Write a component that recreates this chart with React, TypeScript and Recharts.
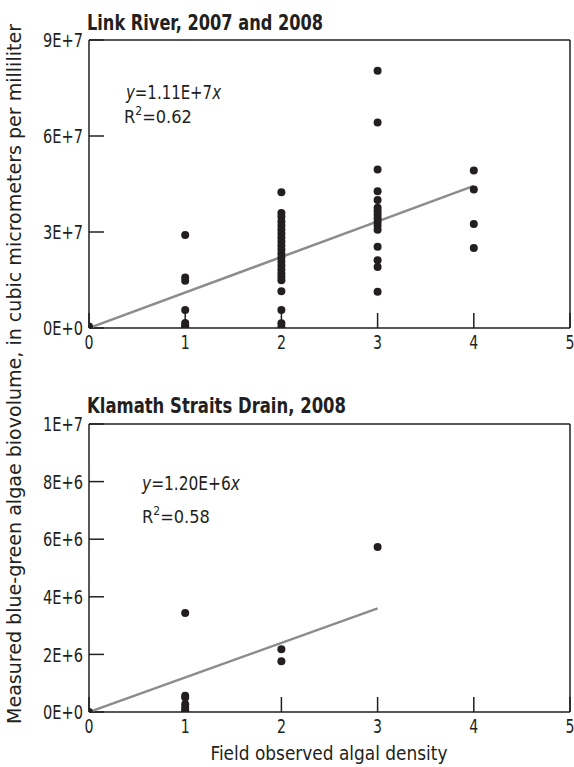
import React from "react";
import { ScatterChart, Scatter, XAxis, YAxis } from "recharts";

// field observed algal density classes (x axis)
const densityTicks = [0, 1, 2, 3, 4, 5];

// Link River, 2007 and 2008 -- biovolume per density class
const linkRiverTicks = [0, 3e7, 6e7, 9e7];
const linkRiverByDensity: number[][] = [
  [0, 0.05e7],
  [2.91e7, 1.58e7, 1.48e7, 0.56e7, 0.16e7, 0.08e7, 0.03e7, 0],
  [
    4.24e7, 3.59e7, 3.48e7, 3.33e7, 3.2e7, 3.08e7, 2.95e7, 2.83e7, 2.7e7,
    2.58e7, 2.45e7, 2.33e7, 2.2e7, 2.08e7, 1.95e7, 1.83e7, 1.7e7, 1.6e7,
    1.49e7, 1.15e7, 0.56e7, 0.15e7, 0.03e7,
  ],
  [
    8.04e7, 6.42e7, 4.95e7, 4.27e7, 4.0e7, 3.76e7, 3.65e7, 3.54e7, 3.43e7,
    3.32e7, 3.2e7, 3.07e7, 2.54e7, 2.12e7, 1.91e7, 1.13e7,
  ],
  [4.92e7, 4.33e7, 3.25e7, 2.5e7],
];
const linkRiverSlope = 1.11e7;
const linkRiverFitMax = 4;

// Klamath Straits Drain, 2008
const klamathTicks = [0, 2e6, 4e6, 6e6, 8e6, 1e7];
const klamathByDensity: number[][] = [
  [0],
  [3.44e6, 0.56e6, 0.5e6, 0.27e6, 0.15e6, 0.05e6, 0],
  [2.18e6, 1.76e6],
  [5.73e6],
];
const klamathSlope = 1.2e6;
const klamathFitMax = 3;

const INK = "#231f20";
const FIT = "#8c8c8c";
const FONT = "'DejaVu Sans Condensed', 'Liberation Sans', sans-serif";

const fmtSci = (v: number) => v.toExponential(0).toUpperCase();

const Dot = (p: any) => <circle cx={p.cx} cy={p.cy} r={4} fill={INK} />;
const NoDot = () => <g />;

// narrow tick labels, squeezed to look like the condensed face of the original
const XTick = (p: any) => (
  <text
    x={p.x}
    y={p.y}
    dy="0.71em"
    textAnchor="middle"
    fontSize={20}
    fontFamily={FONT}
    fill={INK}
    textLength={9}
    lengthAdjust="spacingAndGlyphs"
  >
    {String(p.payload.value)}
  </text>
);

const YTick = (p: any) => {
  const label = fmtSci(p.payload.value);
  return (
    <text
      x={p.x}
      y={p.y}
      dy="0.36em"
      textAnchor="end"
      fontSize={20}
      fontFamily={FONT}
      fill={INK}
      textLength={label.length * 10}
      lengthAdjust="spacingAndGlyphs"
    >
      {label}
    </text>
  );
};

type PanelProps = {
  top: number;
  values: number[][];
  slope: number;
  fitMax: number;
  yTicks: number[];
};

const Panel = ({ top, values, slope, fitMax, yTicks }: PanelProps) => {
  const points = values.flatMap((col, x) => col.map((y) => ({ x, y })));
  const fit = [
    { x: 0, y: 0 },
    { x: fitMax, y: fitMax * slope },
  ];
  const yDomain = [0, yTicks[yTicks.length - 1]];
  const axisStyle = { stroke: INK, strokeWidth: 1.5 };

  return (
    <div style={{ position: "absolute", left: 0, top }}>
      <ScatterChart
        width={574}
        height={362}
        margin={{ top: 40, right: 4, bottom: 4, left: 29 }}
      >
        <XAxis
          xAxisId="b"
          dataKey="x"
          type="number"
          orientation="bottom"
          domain={[0, 5]}
          ticks={densityTicks}
          interval={0}
          allowDataOverflow
          height={30}
          tickSize={-15}
          tickMargin={22}
          axisLine={axisStyle}
          tickLine={axisStyle}
          tick={XTick}
        />
        <XAxis
          xAxisId="t"
          type="number"
          orientation="top"
          domain={[0, 5]}
          ticks={densityTicks}
          interval={0}
          allowDataOverflow
          height={1}
          mirror
          tickSize={15}
          axisLine={axisStyle}
          tickLine={axisStyle}
          tick={false}
        />
        <YAxis
          yAxisId="l"
          dataKey="y"
          type="number"
          orientation="left"
          domain={yDomain}
          ticks={yTicks}
          interval={0}
          allowDataOverflow
          width={60}
          tickSize={-15}
          tickMargin={21}
          axisLine={axisStyle}
          tickLine={axisStyle}
          tick={YTick}
        />
        <YAxis
          yAxisId="r"
          type="number"
          orientation="right"
          domain={yDomain}
          ticks={yTicks}
          interval={0}
          allowDataOverflow
          width={1}
          mirror
          tickSize={15}
          axisLine={axisStyle}
          tickLine={axisStyle}
          tick={false}
        />
        <Scatter
          xAxisId="b"
          yAxisId="l"
          data={fit}
          line={{ stroke: FIT, strokeWidth: 2.5 }}
          lineType="joint"
          shape={NoDot}
          isAnimationActive={false}
        />
        <Scatter
          xAxisId="b"
          yAxisId="l"
          data={points}
          shape={Dot}
          isAnimationActive={false}
        />
      </ScatterChart>
    </div>
  );
};

export default function App() {
  return (
    <div
      style={{
        position: "absolute",
        left: 0,
        top: 0,
        width: 574,
        height: 767,
        background: "#fff",
      }}
    >
      <Panel
        top={0}
        values={linkRiverByDensity}
        slope={linkRiverSlope}
        fitMax={linkRiverFitMax}
        yTicks={linkRiverTicks}
      />
      <Panel
        top={384}
        values={klamathByDensity}
        slope={klamathSlope}
        fitMax={klamathFitMax}
        yTicks={klamathTicks}
      />
      <svg
        width={574}
        height={767}
        style={{ position: "absolute", left: 0, top: 0, pointerEvents: "none" }}
        fontFamily={FONT}
        fill={INK}
      >
        <text x={87} y={30} fontSize={21} fontWeight="bold" textLength={236} lengthAdjust="spacingAndGlyphs">
          Link River, 2007 and 2008
        </text>
        <text x={87} y={413} fontSize={21} fontWeight="bold" textLength={259} lengthAdjust="spacingAndGlyphs">
          Klamath Straits Drain, 2008
        </text>

        <text x={126} y={99} fontSize={19} textLength={95} lengthAdjust="spacingAndGlyphs">
          <tspan fontStyle="italic">y</tspan>=1.11E+7<tspan fontStyle="italic">x</tspan>
        </text>
        <text x={124} y={123} fontSize={18}>
          R<tspan dy={-8} fontSize={12}>2</tspan>
          <tspan dy={8}>=0.62</tspan>
        </text>

        <text x={142} y={490} fontSize={19} textLength={98} lengthAdjust="spacingAndGlyphs">
          <tspan fontStyle="italic">y</tspan>=1.20E+6<tspan fontStyle="italic">x</tspan>
        </text>
        <text x={142} y={523} fontSize={18}>
          R<tspan dy={-8} fontSize={12}>2</tspan>
          <tspan dy={8}>=0.58</tspan>
        </text>

        <text x={329} y={760} fontSize={19} textAnchor="middle" textLength={237} lengthAdjust="spacingAndGlyphs">
          Field observed algal density
        </text>
        <text
          transform="translate(21,374) rotate(-90)"
          fontSize={19}
          textAnchor="middle"
          textLength={700}
          lengthAdjust="spacingAndGlyphs"
        >
          Measured blue-green algae biovolume, in cubic micrometers per milliliter
        </text>
      </svg>
    </div>
  );
}
